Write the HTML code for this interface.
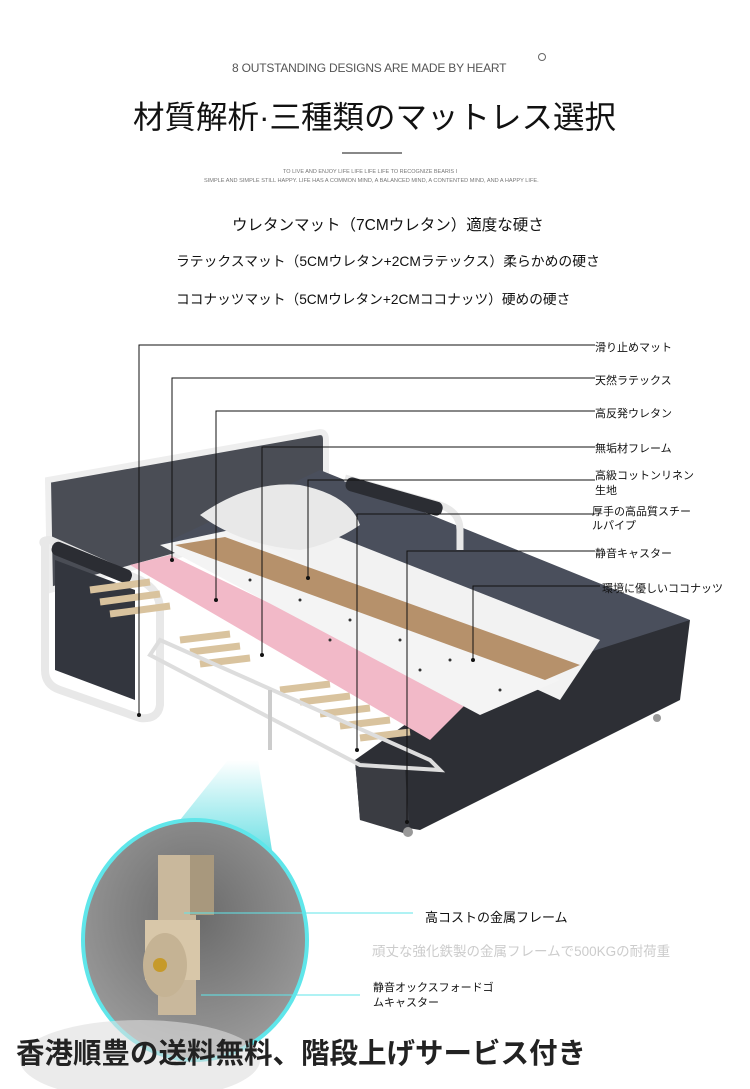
<!DOCTYPE html>
<html><head><meta charset="utf-8"><style>
body{margin:0;width:750px;height:1089px;background:#fff;overflow:hidden;position:relative;font-family:"Liberation Sans","Noto Sans CJK JP",sans-serif}
.t{position:absolute;white-space:nowrap;color:#111}
svg{position:absolute;left:0;top:0}
</style></head><body>
<svg width="750" height="1089" viewBox="0 0 750 1089">
<defs>
<radialGradient id="cg" cx="0.5" cy="0.4" r="0.6"><stop offset="0" stop-color="#6a6a6a"/><stop offset="1" stop-color="#9a9a9a"/></radialGradient>
<linearGradient id="tri" x1="0" y1="0" x2="0" y2="1"><stop offset="0" stop-color="#fff"/><stop offset="1" stop-color="#3fd6dc"/></linearGradient>
</defs>
<path d="M48 480 L320 432 Q326 432 326 440 L326 515 L50 590 Z" fill="#4a4d55" stroke="#eee" stroke-width="6"/>
<path d="M320 470 L690 620 L560 700 L160 545 Z" fill="#4a4f5c"/>
<path d="M440 700 L690 620 L680 700 L420 830 L360 820 L355 760 Z" fill="#2d2f35"/>
<path d="M355 760 L360 820 L410 835 L405 770 Z" fill="#3a3c42"/>
<path d="M45 545 Q40 540 50 540 L140 580 Q160 590 160 610 L160 705 Q158 720 140 718 L60 690 Q45 685 45 670 Z" fill="none" stroke="#e8e8e8" stroke-width="8"/>
<path d="M55 560 L135 590 L135 700 L55 670 Z" fill="#33363e"/>
<rect x="55" y="540" width="85" height="14" rx="6" fill="#2b2d33" transform="rotate(22 55 540)"/>
<path d="M345 478 L440 505 Q460 512 460 530 L460 550" fill="none" stroke="#e8e8e8" stroke-width="7"/>
<rect x="348" y="476" width="100" height="14" rx="6" fill="#2b2d33" transform="rotate(16 348 476)"/>
<g stroke="#d9c39e" stroke-width="7">
<line x1="90" y1="590" x2="150" y2="582"/><line x1="100" y1="602" x2="160" y2="594"/><line x1="110" y1="614" x2="170" y2="606"/>
<line x1="180" y1="640" x2="230" y2="634"/><line x1="190" y1="652" x2="240" y2="646"/><line x1="200" y1="664" x2="250" y2="658"/>
<line x1="280" y1="690" x2="330" y2="684"/><line x1="300" y1="702" x2="350" y2="696"/><line x1="320" y1="714" x2="370" y2="708"/><line x1="340" y1="726" x2="390" y2="720"/><line x1="360" y1="738" x2="410" y2="732"/>
</g>
<path d="M160 640 L430 760 L440 770 L360 765 L150 655 Z" fill="none" stroke="#ddd" stroke-width="4"/>
<path d="M270 510 L600 640 L560 700 L430 640 L250 540 Z" fill="#f2f2f2"/>
<path d="M130 565 L170 555 L470 700 L430 740 Z" fill="#f2b9c8"/>
<path d="M160 545 L230 530 L560 680 L480 715 Z" fill="#f4f4f4"/>
<g fill="#333">
<circle cx="250" cy="580" r="1.5"/><circle cx="300" cy="600" r="1.5"/><circle cx="350" cy="620" r="1.5"/><circle cx="400" cy="640" r="1.5"/><circle cx="450" cy="660" r="1.5"/><circle cx="500" cy="690" r="1.5"/><circle cx="420" cy="670" r="1.5"/><circle cx="330" cy="640" r="1.5"/>
</g>
<path d="M175 545 L225 537 L580 665 L545 680 Z" fill="#b6916b"/>
<path d="M200 515 Q250 480 300 485 Q350 495 360 525 Q330 545 300 550 Q240 545 200 515 Z" fill="#e8e8e8"/>
<line x1="270" y1="690" x2="270" y2="750" stroke="#ccc" stroke-width="4"/>
<circle cx="408" cy="832" r="5" fill="#999"/><circle cx="657" cy="718" r="4" fill="#999"/>
<g stroke="#111" stroke-width="1" fill="none">
<polyline points="595,345 139,345 139,715"/>
<polyline points="595,378 172,378 172,560"/>
<polyline points="595,411 216,411 216,600"/>
<polyline points="595,447 262,447 262,655"/>
<polyline points="595,480 308,480 308,578"/>
<polyline points="595,514 357,514 357,750"/>
<polyline points="595,551 407,551 407,822"/>
<polyline points="600,586 473,586 473,660"/>
</g>
<g fill="#111"><circle cx="139" cy="715" r="2"/><circle cx="172" cy="560" r="2"/><circle cx="216" cy="600" r="2"/><circle cx="262" cy="655" r="2"/><circle cx="308" cy="578" r="2"/><circle cx="357" cy="750" r="2"/><circle cx="407" cy="822" r="2"/><circle cx="473" cy="660" r="2"/></g>
<path d="M228 760 L258 760 L275 870 L140 870 Z" fill="url(#tri)" opacity="0.9"/>
<ellipse cx="192" cy="950" rx="115" ry="128" fill="#fff" opacity="0.3"/>
<ellipse cx="195" cy="940" rx="112" ry="120" fill="url(#cg)" stroke="#5fe6ea" stroke-width="4"/>
<rect x="158" y="855" width="38" height="160" fill="#c9b89c"/>
<rect x="190" y="855" width="24" height="60" fill="#a8987d"/>
<rect x="145" y="920" width="55" height="60" fill="#d8c7a9"/>
<ellipse cx="165" cy="965" rx="22" ry="32" fill="#c5b394"/>
<circle cx="160" cy="965" r="7" fill="#c69a2a"/>
<ellipse cx="140" cy="1060" rx="120" ry="40" fill="#ddd" opacity="0.6"/>
<g stroke="#5fe6ea" stroke-width="1"><line x1="184" y1="913" x2="413" y2="913"/><line x1="201" y1="995" x2="360" y2="995"/></g>
<line x1="342" y1="153" x2="402" y2="153" stroke="#111" stroke-width="1"/>
<circle cx="542" cy="57" r="3.5" fill="none" stroke="#666" stroke-width="1"/>
</svg>
<div class="t" style="left:232px;top:61px;font-size:12px;color:#555;letter-spacing:-0.2px">8 OUTSTANDING DESIGNS ARE MADE BY HEART</div>
<div class="t" style="left:133px;top:92px;font-size:31.5px;color:#111">材質解析·三種類のマットレス選択</div>
<div class="t" style="left:283px;top:169px;font-size:5.5px;color:#777">TO LIVE AND ENJOY LIFE LIFE LIFE LIFE TO RECOGNIZE BEARIS I</div>
<div class="t" style="left:204px;top:178px;font-size:5.6px;color:#777">SIMPLE AND SIMPLE STILL HAPPY. LIFE HAS A COMMON MIND, A BALANCED MIND, A CONTENTED MIND, AND A HAPPY LIFE.</div>
<div class="t" style="left:232px;top:213px;font-size:15.5px">ウレタンマット（7CMウレタン）適度な硬さ</div>
<div class="t" style="left:176px;top:250px;font-size:13.8px">ラテックスマット（5CMウレタン+2CMラテックス）柔らかめの硬さ</div>
<div class="t" style="left:176px;top:288px;font-size:13.7px">ココナッツマット（5CMウレタン+2CMココナッツ）硬めの硬さ</div>
<div class="t" style="left:595px;top:339px;font-size:11px">滑り止めマット</div>
<div class="t" style="left:595px;top:372px;font-size:11px">天然ラテックス</div>
<div class="t" style="left:595px;top:405px;font-size:11px">高反発ウレタン</div>
<div class="t" style="left:595px;top:440px;font-size:11px">無垢材フレーム</div>
<div class="t" style="left:595px;top:469px;font-size:11px;line-height:15px">高級コットンリネン<br>生地</div>
<div class="t" style="left:592px;top:505px;font-size:11px;line-height:14px">厚手の高品質スチー<br>ルパイプ</div>
<div class="t" style="left:595px;top:545px;font-size:11px">静音キャスター</div>
<div class="t" style="left:602px;top:580px;font-size:11px">環境に優しいココナッツ</div>
<div class="t" style="left:425px;top:907px;font-size:13px">高コストの金属フレーム</div>
<div class="t" style="left:372px;top:940px;font-size:13.5px;color:#ccc">頑丈な強化鉄製の金属フレームで500KGの耐荷重</div>
<div class="t" style="left:373px;top:981px;font-size:11px;line-height:15px">静音オックスフォードゴ<br>ムキャスター</div>
<div class="t" style="left:16px;top:1031px;font-size:28.5px;font-weight:bold;color:#222">香港順豊の送料無料、階段上げサービス付き</div>
</body></html>
